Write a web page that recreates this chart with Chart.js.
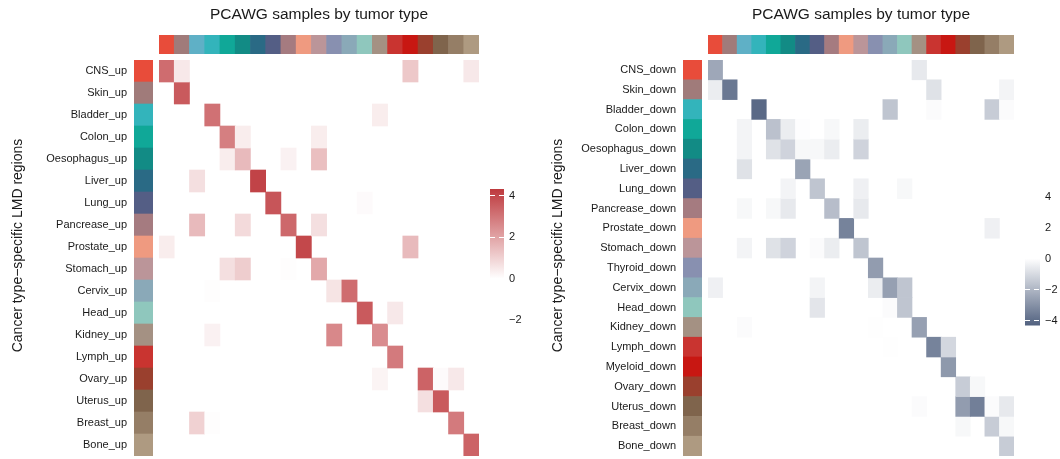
<!DOCTYPE html>
<html>
<head>
<meta charset="utf-8">
<script src="https://cdn.jsdelivr.net/npm/chart.js@4.4.1/dist/chart.umd.min.js"></script>
<style>
html, body { margin: 0; padding: 0; background: #fff; }
#wrap { position: relative; width: 1060px; height: 459px; overflow: hidden; }
#wrap canvas { position: absolute; }
</style>
</head>
<body>
<div id="wrap"></div>
<script>
// ── Data ──
var tumorTypes = ['CNS', 'Skin', 'Biliary', 'Bladder', 'Colon', 'Oesophagus', 'Liver', 'Lung', 'Pancrease', 'Prostate',
    'Stomach', 'Thyroid', 'Cervix', 'Head', 'Kidney', 'Lymph', 'Myeloid', 'Ovary', 'Uterus', 'Breast', 'Bone'];
var tumorColors = ['#e84c3a', '#a07b7a', '#5fb0c6', '#33b4bb', '#10a898', '#128b85', '#2a6a85', '#545e85', '#a57b80', '#ef9a80',
    '#bb9599', '#8890b0', '#8aa9b8', '#8fc7bd', '#a49183', '#c93430', '#c81712', '#9a402e', '#7f644c', '#957e66', '#ae9a81'];

var upTypes = ['CNS', 'Skin', 'Bladder', 'Colon', 'Oesophagus', 'Liver', 'Lung', 'Pancrease', 'Prostate',
    'Stomach', 'Cervix', 'Head', 'Kidney', 'Lymph', 'Ovary', 'Uterus', 'Breast', 'Bone'];
var downTypes = ['CNS', 'Skin', 'Bladder', 'Colon', 'Oesophagus', 'Liver', 'Lung', 'Pancrease', 'Prostate',
    'Stomach', 'Thyroid', 'Cervix', 'Head', 'Kidney', 'Lymph', 'Myeloid', 'Ovary', 'Uterus', 'Breast', 'Bone'];

// rows = LMD region sets, columns = tumorTypes
var upValues = [
    [3.2, 0.5, 0, 0, 0, 0, 0, 0, 0, 0, 0, 0, 0, 0, 0, 0, 1.2, 0, 0, 0, 0.5],
    [0, 3.6, 0, 0, 0, 0, 0, 0, 0, 0, 0, 0, 0, 0, 0, 0, 0, 0, 0, 0, 0],
    [0, 0, 0, 3.1, 0, 0, 0, 0, 0, 0, 0, 0, 0, 0, 0.4, 0, 0, 0, 0, 0, 0],
    [0, 0, 0, 0, 2.8, 0.4, 0, 0, 0, 0, 0.4, 0, 0, 0, 0, 0, 0, 0, 0, 0, 0],
    [0, 0, 0, 0, 0.4, 1.5, 0, 0, 0.3, 0, 1.4, 0, 0, 0, 0, 0, 0, 0, 0, 0, 0],
    [0, 0, 0.7, 0, 0, 0, 4.1, 0, 0, 0, 0, 0, 0, 0, 0, 0, 0, 0, 0, 0, 0],
    [0, 0, 0, 0, 0, 0, 0, 3.7, 0, 0, 0, 0, 0, 0.1, 0, 0, 0, 0, 0, 0, 0],
    [0, 0, 1.5, 0, 0, 0.8, 0, 0, 3.3, 0, 0.7, 0, 0, 0, 0, 0, 0, 0, 0, 0, 0],
    [0.4, 0, 0, 0, 0, 0, 0, 0, 0, 4.0, 0, 0, 0, 0, 0, 0, 1.5, 0, 0, 0, 0],
    [0, 0, 0, 0, 0.7, 1.1, 0, 0, 0.05, 0, 1.9, 0, 0, 0, 0, 0, 0, 0, 0, 0, 0],
    [0, 0, 0, 0.05, 0, 0, 0, 0, 0, 0, 0, 0.6, 3.2, 0, 0, 0, 0, 0, 0, 0, 0],
    [0, 0, 0, 0, 0, 0, 0, 0, 0, 0, 0, 0, 0, 3.6, 0, 0.5, 0, 0, 0, 0, 0],
    [0, 0, 0, 0.3, 0, 0, 0, 0, 0, 0, 0, 2.6, 0, 0, 2.5, 0, 0, 0, 0, 0, 0],
    [0, 0, 0, 0, 0, 0, 0, 0, 0, 0, 0, 0, 0, 0, 0, 2.9, 0, 0, 0, 0, 0],
    [0, 0, 0, 0, 0, 0, 0, 0, 0, 0, 0, 0, 0, 0, 0.25, 0, 0, 3.4, 0.1, 0.5, 0],
    [0, 0, 0, 0, 0, 0, 0, 0, 0, 0, 0, 0, 0, 0, 0, 0, 0, 0.7, 3.6, 0, 0],
    [0, 0, 1.0, 0.05, 0, 0, 0, 0, 0, 0, 0, 0, 0, 0, 0, 0, 0, 0, 0, 2.9, 0],
    [0, 0, 0, 0, 0, 0, 0, 0, 0, 0, 0, 0, 0, 0, 0, 0, 0, 0, 0, 0, 3.4]
];
var downValues = [
    [-2.4, 0, 0, 0, 0, 0, 0, 0, 0, 0, 0, 0, 0, 0, -0.6, 0, 0, 0, 0, 0, 0],
    [-0.5, -3.7, 0, 0, 0, 0, 0, 0, 0, 0, 0, 0, 0, 0, 0, -0.8, 0, 0, 0, 0, -0.3],
    [0, 0, 0, -4.1, 0, 0, 0, 0, 0, 0, 0, 0, -1.6, 0, 0, -0.1, 0, 0, 0, -1.4, -0.1],
    [0, 0, -0.3, 0, -1.7, -0.5, -0.05, 0, -0.2, 0, -0.5, 0, 0, 0, 0, 0, 0, 0, 0, 0, 0],
    [0, 0, -0.3, 0, -0.8, -1.2, -0.2, -0.2, -0.5, 0, -1.2, 0, 0, 0, 0, 0, 0, 0, 0, 0, 0],
    [0, 0, -0.8, 0, 0, 0, -2.5, 0, 0, 0, 0, 0, 0, 0, 0, 0, 0, 0, 0, 0, 0],
    [0, 0, 0, 0, 0, -0.3, 0, -1.6, 0, 0, -0.4, 0, 0, -0.2, 0, 0, 0, 0, 0, 0, 0],
    [0, 0, -0.2, 0, -0.2, -0.6, 0, 0, -1.8, 0, -0.6, 0, 0, 0, 0, 0, 0, 0, 0, 0, 0],
    [0, 0, 0, 0, 0, 0, 0, 0, 0, -3.4, 0, 0, 0, 0, 0, 0, 0, 0, 0, -0.4, 0],
    [0, 0, -0.3, 0, -0.8, -1.2, 0, -0.1, -0.5, 0, -1.6, 0, 0, 0, 0, 0, 0, 0, 0, 0, 0],
    [0, 0, 0, 0, 0, 0, 0, 0, 0, 0, 0, -2.7, 0, 0, 0, 0, 0, 0, 0, 0, 0],
    [-0.4, 0, 0, 0, 0, 0, 0, -0.3, 0, 0, 0, -0.5, -2.6, -1.6, 0, 0, 0, 0, 0, 0, 0],
    [0, 0, 0, 0, 0, 0, 0, -0.7, 0, 0, 0, 0, -0.1, -1.6, 0, 0, 0, 0, 0, 0, 0],
    [0, 0, -0.1, 0, 0, 0, 0, 0, 0, 0, 0, -0.03, 0, 0, -2.6, 0, 0, 0, 0, 0, 0],
    [0, 0, 0, 0, 0, 0, 0, 0, 0, 0, 0, 0, -0.03, 0, 0, -3.4, -1.1, 0, 0, 0, 0],
    [0, 0, 0, 0, 0, 0, 0, 0, 0, 0, 0, 0, 0, 0, 0, 0, -2.8, 0, 0, 0, 0],
    [0, 0, 0, 0, 0, 0, 0, 0, 0, 0, 0, 0, 0, 0, 0, 0, 0, -1.4, -0.2, 0, 0],
    [0, 0, 0, 0, 0, 0, 0, 0, 0, 0, 0, 0, 0, 0, -0.1, 0, 0, -2.7, -3.5, -0.1, -0.6],
    [0, 0, 0, 0, 0, 0, 0, 0, 0, 0, 0, 0, 0, 0, 0, 0, 0, -0.2, 0, -1.4, -0.2],
    [0, 0, 0, 0, 0, 0, 0, 0, 0, 0, 0, 0, 0, 0, 0, 0, 0, 0, 0, 0, -1.4]
];

var upLegendTicks = [4, 2, 0, -2];
var downLegendTicks = [4, 2, 0, -2, -4];
var upLegendRange = [0, 4.3];
var downLegendRange = [-4.3, 0];

var titleText = 'PCAWG samples by tumor type';
var rowTitleText = 'Cancer type\u2212specific LMD regions';

// ── Styles ──
var FONT = '"Liberation Sans", Arial, Helvetica, sans-serif';
var TEXT = '#1a1a1a';
var UP_END = [190, 58, 62];
var DOWN_END = [82, 98, 128];
var SCALE_MAX = 4.3;

Chart.defaults.font.family = FONT;
Chart.defaults.color = TEXT;
Chart.defaults.animation = false;
Chart.defaults.responsive = false;
Chart.defaults.devicePixelRatio = 1;
Chart.defaults.events = [];
Chart.defaults.plugins.legend.display = false;
Chart.defaults.plugins.tooltip.enabled = false;

function addCanvas(left, top, w, h) {
    var c = document.createElement('canvas');
    c.width = w; c.height = h;
    c.style.left = left + 'px'; c.style.top = top + 'px';
    c.style.width = w + 'px'; c.style.height = h + 'px';
    document.getElementById('wrap').appendChild(c);
    return c;
}

function rgb(c) { return 'rgb(' + c[0] + ',' + c[1] + ',' + c[2] + ')'; }

function cellColor(v, end) {
    var t = Math.min(Math.abs(v) / SCALE_MAX, 1);
    return rgb(end.map(function(e) { return Math.round(255 + (e - 255) * t); }));
}

function colorOf(type) { return tumorColors[tumorTypes.indexOf(type)]; }

// keep tick labels from shrinking the plot area
function noEdgePadding(s) { s.paddingTop = 0; s.paddingBottom = 0; }

// ── Top annotation + title ──
function topStrip(left, width) {
    return new Chart(addCanvas(left, 0, width, 54), {
        type: 'bar',
        data: {
            labels: tumorTypes,
            datasets: [{
                data: tumorTypes.map(function() { return 1; }),
                backgroundColor: tumorColors,
                borderWidth: 0, barPercentage: 1, categoryPercentage: 1
            }]
        },
        options: {
            layout: { padding: 0 },
            plugins: {
                title: {
                    display: true, text: titleText, color: TEXT,
                    font: { size: 15.5, weight: 'normal' },
                    padding: { top: 5, bottom: 11.4 }
                }
            },
            scales: {
                x: { display: false },
                y: { display: false, min: 0, max: 1 }
            }
        }
    });
}

// ── Row annotation + row labels + row title ──
function rowStrip(left, stripRight, titleX, labels, types) {
    var titlePadTop = titleX - 8.4;
    var titleW = titlePadTop + 16.8;
    return new Chart(addCanvas(left, 35, stripRight - left, 421), {
        type: 'bar',
        data: {
            labels: labels,
            datasets: [{
                data: labels.map(function() { return 1; }),
                backgroundColor: types.map(colorOf),
                borderWidth: 0, barPercentage: 1, categoryPercentage: 1
            }]
        },
        options: {
            indexAxis: 'y',
            layout: { padding: 0 },
            plugins: {
                title: {
                    display: true, position: 'left', text: rowTitleText, color: TEXT,
                    font: { size: 14, weight: 'normal' },
                    padding: { top: titlePadTop, bottom: 0 }
                }
            },
            scales: {
                x: {
                    position: 'top', min: 0, max: 1,
                    grid: { display: false, drawTicks: false }, border: { display: false },
                    ticks: { display: false },
                    afterFit: function(s) { s.height = 25; s.paddingLeft = 0; s.paddingRight = 0; }
                },
                y: {
                    grid: { display: false, drawTicks: false }, border: { display: false },
                    ticks: { padding: 7, autoSkip: false, font: { size: 11 }, color: TEXT },
                    afterFit: function(s) {
                        s.width = (stripRight - 19 - left) - titleW;
                        noEdgePadding(s);
                    }
                }
            }
        }
    });
}

// ── Heatmap body ──
function heatmap(left, width, labels, values, end) {
    return new Chart(addCanvas(left, 60, width, 396), {
        type: 'bar',
        data: {
            labels: tumorTypes,
            datasets: labels.map(function(label, i) {
                return {
                    label: label,
                    data: values[i].map(function(v) { return v === 0 ? null : [i, i + 1]; }),
                    backgroundColor: values[i].map(function(v) { return cellColor(v, end); }),
                    borderWidth: 0, barPercentage: 1, categoryPercentage: 1, grouped: false
                };
            })
        },
        options: {
            layout: { padding: 0 },
            scales: {
                x: { display: false },
                y: { display: false, min: 0, max: labels.length, reverse: true }
            }
        }
    });
}

// ── Colour legend ──
function colorbar(left, top, width, height, axisW, min, max, range, ticks, end) {
    var extreme = Math.abs(range[0]) > Math.abs(range[1]) ? range[0] : range[1];
    return new Chart(addCanvas(left, top, width, height), {
        type: 'bar',
        data: {
            labels: [''],
            datasets: [{
                data: [range],
                backgroundColor: function(ctx) {
                    var chart = ctx.chart;
                    if (!chart.chartArea) return null;
                    var y = chart.scales.y;
                    var g = chart.ctx.createLinearGradient(0, y.getPixelForValue(0), 0, y.getPixelForValue(extreme));
                    g.addColorStop(0, '#ffffff');
                    g.addColorStop(1, rgb(end));
                    return g;
                },
                borderWidth: 0, barPercentage: 1, categoryPercentage: 1
            }]
        },
        options: {
            layout: { padding: 0 },
            scales: {
                x: { display: false },
                y: {
                    position: 'right', min: min, max: max,
                    afterBuildTicks: function(s) { s.ticks = ticks.map(function(v) { return { value: v }; }); },
                    afterFit: function(s) { s.width = axisW; noEdgePadding(s); },
                    grid: { color: '#ffffff', lineWidth: 1, drawTicks: false, z: 1 },
                    border: { display: false, dash: [5, 4] },
                    ticks: {
                        padding: 5, font: { size: 11 }, color: TEXT,
                        callback: function(v) { return String(v).replace('-', '\u2212'); }
                    }
                }
            }
        }
    });
}

var upLabels = upTypes.map(function(t) { return t + '_up'; });
var downLabels = downTypes.map(function(t) { return t + '_down'; });

// left panel: up-regulated
topStrip(159, 320);
rowStrip(0, 153, 18.4, upLabels, upTypes);
heatmap(159, 320, upLabels, upValues, UP_END);
colorbar(490, 179, 40, 162, 26, -3, 4.8, upLegendRange, upLegendTicks, UP_END);

// right panel: down-regulated
topStrip(708, 306);
rowStrip(540, 702, 18, downLabels, downTypes);
heatmap(708, 306, downLabels, downValues, DOWN_END);
colorbar(1025, 181, 35, 155, 20, -5, 5, downLegendRange, downLegendTicks, DOWN_END);
</script>
</body>
</html>
